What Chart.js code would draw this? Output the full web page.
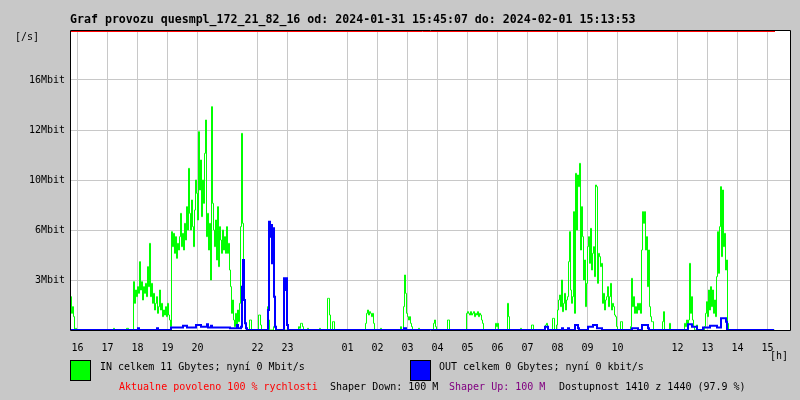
<!DOCTYPE html>
<html>
<head>
<meta charset="utf-8">
<title>Graf provozu</title>
<script src="https://cdn.jsdelivr.net/npm/chart.js@4.4.1/dist/chart.umd.min.js"></script>
<style>
  body { margin: 0; background: #c8c8c8; }
  #wrap { position: relative; width: 800px; height: 400px; overflow: hidden; }
  canvas { position: absolute; left: 0; top: 0; }
  .t { position: absolute; white-space: pre; font-family: "DejaVu Sans Mono", monospace; font-size: 10px; line-height: 12px; color: #000; }
  .title { font-weight: bold; font-size: 11.6px; line-height: 14px; }
  .box { position: absolute; width: 19px; height: 19px; border: 1px solid #000; }
</style>
</head>
<body>
<div id="wrap">
  <canvas id="graf" width="800" height="400"></canvas>
  <div class="t title" style="left:70px; top:12px">Graf provozu quesmpl_172_21_82_16 od: 2024-01-31 15:45:07 do: 2024-02-01 15:13:53</div>
  <div class="t" style="left:15px; top:31px">[/s]</div>
  <div class="t" style="left:770px; top:350px">[h]</div>
  <div class="box" style="left:70px; top:360px; background:#00ff00"></div>
  <div class="t" style="left:100px; top:361px">IN celkem 11 Gbytes; nyní 0 Mbit/s</div>
  <div class="box" style="left:410px; top:360px; background:#0000ff"></div>
  <div class="t" style="left:439px; top:361px">OUT celkem 0 Gbytes; nyní 0 kbit/s</div>
  <div class="t" style="left:119px; top:381px; color:#ff0000">Aktualne povoleno 100 % rychlosti</div>
  <div class="t" style="left:330px; top:381px">Shaper Down: 100 M</div>
  <div class="t" style="left:449px; top:381px; color:#800080">Shaper Up: 100 M</div>
  <div class="t" style="left:559px; top:381px">Dostupnost 1410 z 1440 (97.9 %)</div>
</div>
<script>
// jeden krok = 2 minuty od 15:45:07
const stepMin = 2;
const firstHourMin = 15; // 16:00

// popisky hodin (prazdne = bez cary)
const hourLabels = ['16','17','18','19','20','','22','23','','01','02','03','04','05','06','07','08','09','10','','12','13','14','15'];

// osa Y
const yTickValues = [3, 6, 9, 12, 15];
const yTickLabels = ['3Mbit', '6Mbit', '10Mbit', '12Mbit', '16Mbit'];

// IN (Mbit/s)
const inStep = [0,1,2,3,4,5,6, 42,43,44, 55,56,58,
  62,63,64,65,66,67,68,69,70,71,72,73,74,75,76,77,78,79,80,81,82,83,84,85,86,87,88,89,90,91,92,93,94,95,96,97,98,99,100,
  101,102,103,104,105,106,107,108,109,110,111,112,113,114,115,116,117,118,119,120,121,122,123,124,125,126,127,128,129,130,
  131,132,133,134,135,136,137,138,139,140,141,142,143,144,145,146,147,148,149,150,151,152,153,154,155,156,157,158,159,160,
  161,162,163,164,165,166,167,168,169,170,171,172,173,174,175,176,177,
  179,180,181, 188,189,190,191, 197,198,199, 203,205,
  228,229,230,231,232,233, 237,238, 249,250, 257,258,259,260, 262,263,264,
  295,296,297,298,299,300,301,302,303,304, 310,311, 330,331,
  333,334,335,336,337,338,339,340,341,342, 348,349, 363,364,365,366, 377,378,379,
  396,397,398,399,400,401,402,403,404,405,406,407,408,409,410,411,412,413,
  425,426,427,428, 437,438,439, 450,451, 461,462,463, 475,476,477,478, 482,483,484,
  486,487,488,489,490,491,492,493,494,495,496,497,498,499,500,501,502,503,504,505,506,507,508,509,510,
  511,512,513,514,515,516,517,518,519,520,521,522,523,524,525,526,527,528,529,530,531,532,533,534,535,
  536,537,538,539,540,541,542,543,544,545,546,547, 550,551,552,
  560,561,562,563,564,565,566,567,568,569,570,571,572,573,574,575,576,577,578,579,580,581,582,583,
  592,593,594, 599,600,
  614,615,616,617,618,619,620,621,622,623,624, 626,627,
  634,635,636,637,638,639,640,641,642,643,644,645,646,647,648,649,650,651,652,653,654,655,656,657,658,
  704];
const inMbit = [2.0,1.0,1.4,0.8,0,0.1,0, 0,0.1,0, 0,0.1,0,
  0,2.9,1.6,2.4,2.0,2.6,2.2,4.1,2.4,2.9,1.8,2.6,2.2,2.8,2.0,3.8,2.6,5.2,2.0,2.8,1.6,2.2,1.2,1.6,2.0,1.0,1.4,2.4,1.2,1.6,0.8,1.2,0.9,1.4,0.8,1.6,0.9,0.6,0.2,
  5.9,5.0,5.8,4.6,5.6,4.3,5.2,4.8,5.6,7.0,5.0,5.8,4.8,6.4,5.4,7.4,6.0,9.7,7.0,6.0,7.8,6.2,5.0,7.2,9.0,8.2,6.6,11.9,8.4,10.2,
  6.8,9.0,7.6,10.6,12.6,5.6,7.0,4.8,6.4,3.0,13.4,7.6,6.0,5.0,6.6,4.2,7.4,3.8,6.2,5.4,4.6,6.0,4.8,5.6,4.6,6.2,4.6,5.2,3.6,2.6,
  1.0,1.8,0.6,0.2,1.0,0.3,1.2,0.5,1.6,6.2,11.8,6.4,3.0,0.5,0.3,0.1,0,
  0.6,0.6,0, 0.9,0.9,0.3,0, 1.4,0.6,0, 0.2,0,
  0.2,0.1,0.4,0.4,0.2,0, 0.1,0, 0.1,0, 1.9,1.9,0.9,0, 0.5,0.5,0,
  0.4,1.0,1.2,0.9,1.1,1.0,0.8,1.0,0.4,0, 0.1,0, 0.2,0,
  1.4,3.3,2.2,1.0,0.8,0.6,0.8,0.4,0.2,0, 0.1,0, 0.4,0.6,0.2,0, 0.6,0.6,0,
  1.0,1.1,1.0,0.9,1.1,0.9,1.0,1.1,0.8,1.0,0.9,1.1,0.8,1.0,0.9,0.6,0.4,0,
  0.4,0.2,0.4,0, 1.6,0.8,0, 0.1,0, 0.3,0.3,0, 0.3,0.4,0.2,0, 0.7,0.7,0,
  0.3,1.2,1.8,2.1,1.4,3.0,1.1,1.6,2.2,1.2,1.8,2.0,4.1,5.9,2.4,1.6,2.0,7.1,1.0,9.4,6.0,9.3,8.6,10.0,4.8,
  7.4,5.6,3.0,4.2,1.4,2.8,5.0,5.6,4.0,6.1,3.6,4.6,5.0,3.2,8.7,8.6,2.8,4.6,4.4,3.8,4.0,1.6,2.2,1.2,1.8,
  2.0,2.6,1.4,2.0,2.8,1.2,1.6,1.4,0.9,0.8,0.2,0, 0.5,0.5,0,
  0.2,3.1,1.4,2.0,1.0,1.4,1.0,1.6,1.2,1.6,1.0,4.8,7.1,6.4,7.1,4.8,5.6,2.6,4.8,1.4,0.8,0.5,0.5,0,
  0.5,1.1,0, 0.4,0,
  0.4,0.2,0.6,0.2,0.6,4.0,1.0,2.0,0.6,0.2,0, 0.3,0,
  0.2,1.0,1.7,0.8,2.4,1.2,2.6,1.4,2.4,1.0,1.8,0.8,3.2,5.9,3.4,6.2,8.6,4.4,8.4,5.0,5.8,3.6,4.2,0.4,0,
  0];

// OUT (Mbit/s)
const outStep = [0, 68,69, 87,88, 100,101,113,117,126,131,137,138,141,142,160,167,168,171,172,173,174,175,176,177,
  198,199,200,201,202,203,204,205,206, 214,215,216,217,218, 334,336,
  475,478, 492,493, 498,499, 505,508,509, 518,523,527,530,532, 562,568, 572,578,579,
  618,622,627, 633,640,647,651,656,657, 704];
const outMbit = [0, 0.1,0, 0.1,0, 0,0.15,0.25,0.15,0.3,0.2,0.35,0.15,0.25,0.15,0.1,0.3,0.1,0.2,2.6,4.2,1.8,0.4,0.1,0,
  1.2,6.5,5.6,6.3,4.0,6.1,2.0,0.2,0, 3.1,2.4,3.1,0.3,0, 0.1,0,
  0.2,0, 0.1,0, 0.1,0, 0.3,0.1,0, 0.2,0.3,0.1,0.1,0, 0.1,0, 0.3,0.1,0,
  0.35,0.2,0, 0.15,0.25,0.15,0.7,0.5,0, 0];

// povolena rychlost (cervena cara nahore)
const limitStep = [0, 705];
const limitMbit = [17.91, 17.91];

// offset v minutach: 1 px = 2 min, pul pixelu kvuli ostrym carам sirky 1
function points(steps, vals, offset) {
  return steps.map((s, i) => ({ x: s * stepMin + offset, y: vals[i] }));
}

Chart.defaults.font.family = '"DejaVu Sans Mono", monospace';
Chart.defaults.font.size = 10;
Chart.defaults.color = '#000';

// bile pozadi grafu a cerny ramecek
const ramecek = {
  id: 'ramecek',
  beforeDraw(chart) {
    const a = chart.chartArea, c = chart.ctx;
    c.save();
    c.fillStyle = '#ffffff';
    c.fillRect(a.left, a.top, a.right - a.left, a.bottom - a.top);
    c.restore();
  },
  afterDatasetsDraw(chart) {
    const a = chart.chartArea, c = chart.ctx;
    c.save();
    c.strokeStyle = '#000';
    c.lineWidth = 1;
    c.beginPath();
    c.moveTo(a.left + 0.5, a.top + 0.5);
    c.lineTo(a.right + 0.5, a.top + 0.5);
    c.lineTo(a.right + 0.5, a.bottom + 0.5);
    c.lineTo(a.left + 0.5, a.bottom + 0.5);
    c.closePath();
    c.stroke();
    c.restore();
  }
};

new Chart(document.getElementById('graf'), {
  type: 'line',
  data: {
    datasets: [
      { label: 'OUT', data: points(outStep, outMbit, 0), borderColor: '#0000ff', borderWidth: 2, stepped: true, pointRadius: 0, fill: false, order: 0 },
      { label: 'IN', data: points(inStep, inMbit, 1), borderColor: '#00ff00', borderWidth: 1, stepped: true, pointRadius: 0, fill: false, order: 1 },
      { label: 'povoleno', data: points(limitStep, limitMbit, 0), borderColor: '#ff0000', borderWidth: 1, pointRadius: 0, fill: false, order: 2 }
    ]
  },
  options: {
    responsive: false,
    animation: false,
    events: [],
    layout: { padding: { top: 30, right: 10, left: 0, bottom: 0 } },
    plugins: { legend: { display: false }, tooltip: { enabled: false } },
    scales: {
      x: {
        type: 'linear', min: 0, max: 1440,
        afterBuildTicks: s => { s.ticks = hourLabels.map((l, i) => ({ value: firstHourMin + 60 * i })); },
        afterFit: s => { s.height = 70; },
        grid: { color: c => hourLabels[c.index] ? '#c8c8c8' : 'rgba(0,0,0,0)', drawTicks: false },
        border: { display: false },
        ticks: { autoSkip: false, maxRotation: 0, padding: 12, callback: (v, i) => hourLabels[i] }
      },
      y: {
        min: 0, max: 18,
        afterBuildTicks: s => { s.ticks = [0].concat(yTickValues, [18]).map(v => ({ value: v })); },
        afterFit: s => { s.width = 70; },
        grid: { color: c => yTickValues.includes(c.tick.value) ? '#c8c8c8' : 'rgba(0,0,0,0)', drawTicks: false },
        border: { display: false },
        ticks: { padding: 5, callback: v => { const i = yTickValues.indexOf(v); return i < 0 ? '' : yTickLabels[i]; } }
      }
    }
  },
  plugins: [ramecek]
});
</script>
</body>
</html>
